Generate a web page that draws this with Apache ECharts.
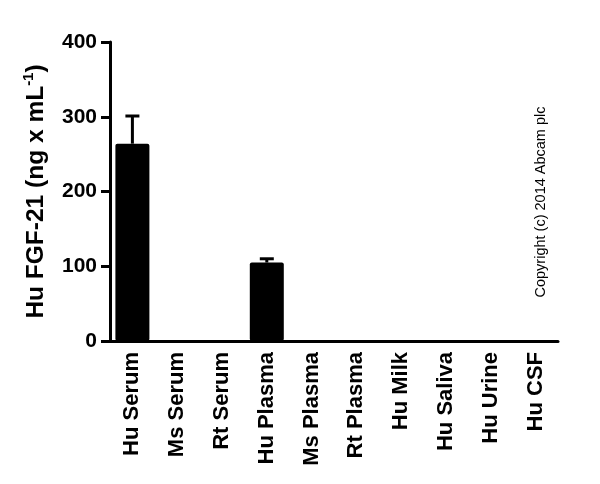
<!DOCTYPE html>
<html>
<head>
<meta charset="utf-8">
<script src="https://cdn.jsdelivr.net/npm/echarts@6/dist/echarts.min.js"></script>
<style>html,body{margin:0;padding:0;background:#fff}#c{width:600px;height:484px}</style>
</head>
<body>
<div id="c"></div>
<script>
const categories = ['Hu Serum','Ms Serum','Rt Serum','Hu Plasma','Ms Plasma','Rt Plasma','Hu Milk','Hu Saliva','Hu Urine','Hu CSF'];
const means = [264, 0, 0, 105, 0, 0, 0, 0, 0, 0];
const errors = [37, 0, 0, 5, 0, 0, 0, 0, 0, 0];
const yTicks = [0, 100, 200, 300, 400];

const chart = echarts.init(document.getElementById('c'));
const F = 'Liberation Sans, Arial, sans-serif';
chart.setOption({
  animation: false,
  grid: {left: 110, right: 42, top: 42, bottom: 143},
  xAxis: {
    type: 'category', data: categories,
    axisLine: {lineStyle: {color: '#000', width: 3}},
    axisTick: {alignWithLabel: true, length: 8, lineStyle: {color: '#000', width: 3}},
    axisLabel: {rotate: 90, margin: 11, color: '#000', fontFamily: F, fontWeight: 'bold', fontSize: 22, interval: 0}
  },
  yAxis: {
    type: 'value', min: yTicks[0], max: yTicks[yTicks.length-1], interval: 100,
    splitLine: {show: false},
    axisLine: {show: true, lineStyle: {color: '#000', width: 3}},
    axisTick: {show: true, length: 9, lineStyle: {color: '#000', width: 3}},
    axisLabel: {margin: 13, color: '#000', fontFamily: F, fontWeight: 'bold', fontSize: 21},
    name: 'Hu FGF-21 (ng x mL{sup|-1})',
    nameLocation: 'middle', nameGap: 55,
    nameTextStyle: {color: '#000', fontFamily: F, fontWeight: 'bold', fontSize: 24.5, lineHeight: 30,
      rich: {sup: {fontSize: 15, fontFamily: F, fontWeight: 'bold', color: '#000', verticalAlign: 'top', lineHeight: 30, padding: [0,0,10,0]}}}
  },
  graphic: [{
    type: 'text', x: 541, y: 202, rotation: Math.PI/2,
    style: {text: 'Copyright (c) 2014 Abcam plc', fontFamily: F, fontSize: 14.5, fill: '#000', textAlign: 'center', textVerticalAlign: 'middle'}
  }],
  series: [{
    type: 'bar', data: means, barWidth: 34,
    itemStyle: {color: '#000', borderRadius: 2}
  }, {
    type: 'custom',
    data: means.map((m, i) => [i, m, errors[i]]),
    renderItem: function (params, api) {
      const i = api.value(0), m = api.value(1), e = api.value(2);
      if (!e) return;
      const p0 = api.coord([i, m]);
      const p1 = api.coord([i, m + e]);
      const half = 7;
      return {type: 'group', children: [
        {type: 'line', shape: {x1: p0[0], y1: p0[1], x2: p1[0], y2: p1[1]}, style: {stroke: '#000', lineWidth: 3}},
        {type: 'line', shape: {x1: p1[0]-half, y1: p1[1], x2: p1[0]+half, y2: p1[1]}, style: {stroke: '#000', lineWidth: 3}}
      ]};
    },
    z: 1
  }]
});
</script>
</body>
</html>
